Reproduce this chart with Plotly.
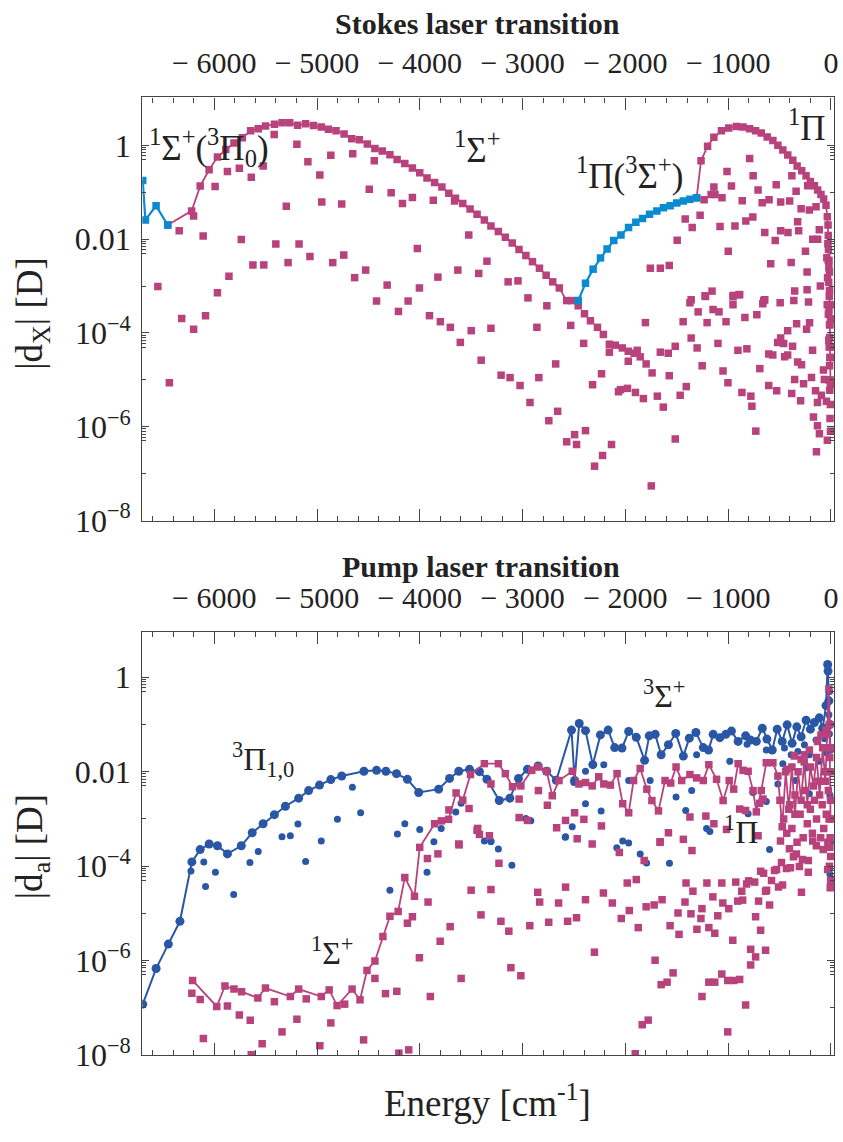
import plotly.graph_objects as go

W, H = 843, 1142
MAGENTA = "#B8427C"
LIGHT_BLUE = "#0A8AD0"
DARK_BLUE = "#2A56A6"
AXIS = "#444444"
FONT = "Liberation Serif"

# ---------------- Stokes laser transition: |d_X| [D] vs energy [cm^-1] ----------------
stokes_mixed_left = [(-6696, 0.178), (-6670, 0.0257), (-6566, 0.0513), (-6453, 0.020)]

stokes_sigma = [
    (-6453, 0.020), (-6220, 0.040), (-6137, 0.135), (-6050, 0.30), (-5969, 0.56),
    (-5888, 0.81), (-5808, 1.12), (-5727, 1.45), (-5646, 2.04), (-5572, 2.24),
    (-5501, 2.57), (-5414, 2.82), (-5340, 3.02), (-5266, 3.02), (-5189, 2.69),
    (-5111, 2.88), (-5034, 2.63), (-4959, 2.45), (-4889, 2.19), (-4815, 2.04),
    (-4737, 1.74), (-4663, 1.38), (-4589, 1.32), (-4511, 1.07), (-4437, 0.85),
    (-4366, 0.76), (-4291, 0.63), (-4221, 0.50), (-4146, 0.41), (-4072, 0.33),
    (-4001, 0.26), (-3930, 0.20), (-3856, 0.162), (-3785, 0.129), (-3718, 0.095),
    (-3653, 0.074), (-3582, 0.0575), (-3511, 0.0437), (-3443, 0.0339), (-3372, 0.0257),
    (-3308, 0.0191), (-3236, 0.0145), (-3168, 0.011), (-3101, 0.0083), (-3035, 0.0060),
    (-2968, 0.00447), (-2904, 0.00331), (-2836, 0.0024), (-2771, 0.0017), (-2707, 0.00123),
    (-2643, 0.00091), (-2571, 0.00049), (-2522, 0.00049), (-2459, 0.00049),
]

stokes_mixed_mid = [
    (-2459, 0.00049), (-2388, 0.00115), (-2314, 0.00229), (-2242, 0.00398), (-2178, 0.00617),
    (-2113, 0.0093), (-2043, 0.0123), (-1969, 0.0178), (-1898, 0.0229), (-1833, 0.0275),
    (-1765, 0.0339), (-1694, 0.0398), (-1630, 0.0468), (-1565, 0.0513), (-1500, 0.0589),
    (-1436, 0.0646), (-1372, 0.0708), (-1307, 0.0759),
]

stokes_pi = [
    (-1307, 0.0759), (-1264, 0.468), (-1200, 0.955), (-1139, 1.48), (-1065, 2.04),
    (-994, 2.34), (-920, 2.51), (-855, 2.45), (-791, 2.24), (-733, 2.04), (-678, 1.82),
    (-620, 1.51), (-565, 1.26), (-516, 1.0), (-468, 0.79), (-420, 0.62), (-371, 0.48),
    (-329, 0.363), (-284, 0.288), (-242, 0.224), (-200, 0.170), (-161, 0.138),
    (-129, 0.112), (-97, 0.089), (-71, 0.072), (-48, 0.0525), (-35, 0.030), (-26, 0.012),
    (-19, 0.0035), (-14, 8e-4), (-10, 1.5e-4), (-7, 3e-5), (-5, 8e-6),
]

stokes_other = [
    (-5196, 1.05), (-5089, 0.447), (-4973, 0.234), (-4866, 0.617), (-4653, 0.66),
    (-4443, 0.468), (-5417, 1.70), (-5524, 0.363), (-5640, 0.209), (-5756, 0.324),
    (-5872, 0.275), (-5992, 0.132), (-4492, 0.115), (-4279, 0.098), (-4169, 0.0575),
    (-4072, 0.0776), (-3869, 0.0676), (-3662, 0.0646), (-4760, 0.0562), (-4954, 0.0617),
    (-5299, 0.050), (-6341, 0.0151), (-6108, 0.0117), (-6201, 0.031), (-5737, 0.0098),
    (-5401, 0.0079), (-5175, 0.0079), (-5069, 0.00427), (-5282, 0.00316), (-5624, 0.00282),
    (-5518, 0.00282), (-4847, 0.00316), (-4740, 0.00457), (-4634, 0.00151), (-4527, 0.00219),
    (-4024, 0.0063), (-3524, 0.0123), (-3347, 0.00339), (-3427, 0.00186), (-3630, 0.00219),
    (-3824, 0.00155), (-4004, 0.00091), (-4318, 0.00105), (-4421, 0.00048), (-4114, 0.00048),
    (-5857, 0.00162), (-5969, 0.00072), (-6549, 0.00098),
    (-6437, 8.7e-6), (-6317, 2.04e-4), (-6201, 1.2e-4), (-6085, 2.34e-4), (-4208, 2.88e-4),
    (-3906, 2.34e-4), (-3800, 1.74e-4), (-3703, 1.32e-4), (-3606, 6.3e-5), (-3500, 1.12e-4),
    (-3403, 2.63e-5), (-3308, 1.26e-4), (-3209, 1.26e-5), (-3122, 1.12e-5), (-3025, 7.6e-6),
    (-2928, 3.3e-6), (-3141, 1.23e-3), (-3045, 1.29e-3), (-2948, 5.6e-4), (-2861, 1.32e-4),
    (-2842, 1.12e-5), (-2764, 3.8e-4), (-2745, 1.35e-6), (-2678, 2.19e-5), (-2659, 2.14e-6),
    (-2571, 4.8e-7), (-2494, 6.8e-7), (-2475, 4.2e-7), (-2388, 8.3e-7), (-2300, 1.45e-7),
    (-2222, 2.45e-7), (-2135, 4.2e-7), (-1748, 5.5e-8), (-2319, 7.9e-6), (-2232, 1.35e-5),
    (-2532, 1.45e-4), (-2406, 6.0e-5),
    (-2459, 3.8e-4), (-2398, 2.57e-4), (-2340, 1.82e-4), (-2272, 1.32e-4), (-2214, 9.3e-5),
    (-2156, 5.75e-5), (-2098, 5.5e-5), (-2156, 3.9e-5), (-2030, 4.8e-5), (-1972, 4.07e-5),
    (-1914, 3.7e-5), (-1885, 4.27e-5), (-1856, 3.1e-5), (-1972, 2.5e-5), (-1798, 2.19e-5),
    (-1740, 1.41e-5), (-2067, 5.6e-6), (-2048, 6.2e-6), (-1980, 6.6e-6), (-1902, 5.4e-6),
    (-1825, 4.0e-6), (-1689, 4.5e-6), (-1631, 2.63e-6), (-1573, 1.23e-5), (-1467, 4.7e-6),
    (-1408, 7.2e-6), (-1515, 5.5e-7), (-1805, 1.66e-4), (-1660, 3.9e-5), (-1583, 3.7e-5),
    (-1515, 5.2e-5), (-1438, 1.74e-4), (-1360, 5.1e-4), (-1360, 7.8e-5), (-1302, 4.8e-5),
    (-1292, 2.82e-4), (-1253, 2.0e-5), (-1225, 6.2e-4), (-1205, 1.66e-4), (-1157, 7.8e-4),
    (-1147, 3.16e-4), (-1089, 2.82e-4), (-1099, 6.0e-5), (-1050, 1.55e-5), (-1021, 1.74e-4),
    (-1002, 8.7e-6), (-953, 5.9e-4), (-953, 4.0e-4), (-895, 6.5e-4), (-905, 4.27e-5),
    (-866, 5.4e-6), (-837, 2.14e-4), (-818, 4.6e-5), (-779, 4.5e-6), (-769, 2.75e-6),
    (-731, 8.1e-7), (-721, 2.45e-4), (-692, 1.74e-5), (-663, 4.2e-4), (-644, 5.1e-4),
    (-605, 3.55e-5), (-566, 3.4e-5), (-605, 7.6e-6), (-528, 5.9e-6), (-518, 6.3e-5),
    (-489, 7.8e-5), (-460, 6.0e-5), (-450, 3.1e-5), (-421, 1.12e-4), (-421, 3.4e-5),
    (-382, 5.1e-6), (-373, 5.2e-5), (-353, 7.8e-4), (-353, 1.02e-5), (-334, 1.58e-4),
    (-324, 2.4e-5), (-295, 3.6e-6), (-286, 2.1e-5), (-266, 8.3e-6), (-237, 1.2e-4),
    (-218, 4.6e-4), (-208, 1.66e-4), (-189, 1.12e-5), (-179, 4.27e-5), (-170, 1.62e-6),
    (-150, 5.9e-6), (-131, 3.3e-6), (-131, 1.05e-6), (-112, 7.1e-7), (-141, 2.95e-7),
    (-35, 5.2e-7), (-93, 4.7e-6), (-73, 1.62e-5), (-64, 1.02e-5), (-44, 3.5e-6),
    (-791, 0.525), (-1011, 0.275), (-757, 0.224), (-1139, 0.129), (-968, 0.135),
    (-709, 0.112), (-532, 0.145), (-380, 0.224), (-339, 0.105), (-226, 0.138),
    (-602, 0.069), (-489, 0.0617), (-402, 0.0646), (-863, 0.066), (-669, 0.060),
    (-1234, 0.069), (-1166, 0.089), (-1128, 0.089), (-1060, 0.076), (-1273, 0.0324),
    (-1418, 0.0269), (-1350, 0.0178), (-1496, 0.0095), (-1079, 0.0186), (-934, 0.0191),
    (-828, 0.0245), (-760, 0.0295), (-644, 0.0138), (-542, 0.0093), (-489, 0.0151),
    (-418, 0.0138), (-324, 0.0234), (-314, 0.0151), (-290, 0.0447), (-210, 0.0417),
    (-248, 0.0055), (-177, 0.010), (-129, 0.010), (-145, 0.049), (-113, 0.0158),
    (-999, 0.0055), (-586, 0.0030), (-387, 0.00316), (-232, 0.0020), (-1660, 0.0024),
    (-1573, 0.00275), (-1757, 0.0024), (-1372, 4.4e-4), (-1220, 6.0e-4), (-951, 6.3e-4),
    (-888, 6.6e-4), (-654, 4.9e-4), (-494, 4.4e-4), (-361, 4.9e-4), (-232, 8.3e-4),
    (-103, 1.0e-3),
    (-28, 0.02), (-24, 0.006), (-20, 0.0025), (-22, 1.2e-3), (-16, 6e-4), (-19, 3e-4),
    (-14, 1.5e-4), (-12, 8e-5), (-17, 5e-5), (-10, 3e-5), (-13, 2e-5), (-8, 1e-5),
    (-11, 6e-6), (-6, 3e-6), (-9, 1.5e-6), (-5, 8e-7), (-30, 0.008), (-26, 3.5e-3),
    (-33, 1.5e-3), (-15, 2e-3), (-7, 4e-4), (-21, 7e-5), (-4, 2e-4), (-3, 5e-5),
    (-36, 4e-4), (-40, 0.004), (-18, 1e-5), (-25, 2.5e-4),
]

# ---------------- Pump laser transition: |d_a| [D] vs energy [cm^-1] ----------------
pump_triplet = [
    (-6696, 1.2e-7), (-6566, 6.8e-7), (-6447, 2.24e-6), (-6334, 6.8e-6), (-6218, 1.23e-4),
    (-6137, 2.24e-4), (-6050, 2.95e-4), (-5969, 2.7e-4), (-5872, 1.82e-4), (-5737, 2.7e-4),
    (-5631, 5.1e-4), (-5525, 7.9e-4), (-5415, 1.23e-3), (-5308, 1.86e-3), (-5179, 2.75e-3),
    (-5082, 3.98e-3), (-4976, 5.2e-3), (-4866, 6.8e-3), (-4760, 8.1e-3), (-4544, 0.0102),
    (-4421, 0.0107), (-4330, 0.0102), (-4227, 9.1e-3), (-4121, 6.9e-3), (-4011, 3.63e-3),
    (-3817, 4.27e-3), (-3711, 7.2e-3), (-3621, 0.0102), (-3517, 0.0112), (-3420, 0.010),
    (-3347, 6.9e-3), (-3227, 2.45e-3), (-3124, 2.75e-3), (-3040, 7.2e-3), (-2953, 0.0112),
    (-2849, 0.0132), (-2766, 0.0102), (-2672, 6.6e-3), (-2524, 0.0759), (-2494, 6.5e-3),
    (-2449, 0.105), (-2388, 0.074), (-2317, 0.0141), (-2243, 0.060), (-2168, 0.0759),
    (-2104, 0.0324), (-2033, 0.0316), (-1968, 0.0708), (-1894, 0.0537), (-1813, 0.0174),
    (-1768, 0.0575), (-1710, 0.0617), (-1652, 0.0229), (-1581, 0.0372), (-1510, 0.0646),
    (-1436, 0.0214), (-1378, 0.0513), (-1314, 0.0676), (-1242, 0.0324), (-1191, 0.0288),
    (-1146, 0.0617), (-1081, 0.0525), (-1023, 0.0617), (-968, 0.0724), (-903, 0.0437),
    (-830, 0.0575), (-784, 0.0468), (-726, 0.0437), (-668, 0.083), (-623, 0.049),
    (-571, 0.0288), (-523, 0.0794), (-474, 0.0437), (-426, 0.098), (-378, 0.0398),
    (-332, 0.089), (-290, 0.055), (-242, 0.123), (-200, 0.0794), (-161, 0.110),
    (-113, 0.138), (-80, 0.083), (-48, 0.251), (-32, 1.86), (-28, 1.35), (-20, 0.316),
    (-12, 0.1), (-6, 0.03),
]

pump_triplet_other = [
    (-6227, 7.9e-5), (-6102, 1.23e-4), (-6085, 3.7e-5), (-5989, 7.4e-5), (-5811, 2.5e-5),
    (-5653, 1.2e-4), (-5572, 2.04e-4), (-5111, 1.26e-4), (-4291, 3.1e-5), (-3930, 7.4e-5),
    (-4656, 4.7e-3), (-4576, 1.35e-3), (-4802, 9.8e-4), (-5186, 7.8e-4), (-5341, 4.2e-4),
    (-5260, 4.4e-4), (-4959, 3.4e-4), (-4218, 4.8e-4), (-4146, 7.9e-4), (-4001, 6.0e-4),
    (-3792, 6.3e-4), (-3863, 3.3e-4), (-3650, 1.41e-3), (-3598, 2.14e-3),
    (-3372, 3.4e-4), (-3308, 3.4e-4), (-3236, 2.3e-4), (-3104, 1.05e-4), (-2585, 4.1e-4),
    (-2084, 2.45e-4), (-2026, 3.4e-4), (-1968, 3.1e-4), (-1856, 1.82e-4), (-1794, 1.17e-4),
    (-1571, 1.15e-4), (-597, 2.24e-4),
    (-2210, 0.0141), (-2501, 5.9e-3), (-2388, 0.0102), (-1307, 0.0229), (-984, 0.0166),
    (-816, 0.038), (-629, 0.0288), (-452, 0.0316), (-387, 0.0229), (-322, 0.0269),
    (-258, 0.0372), (-210, 0.0229), (-145, 0.0468),
    (-2388, 2.1e-3), (-2236, 1.48e-3), (-1968, 6.5e-3), (-1759, 6.5e-3), (-1507, 2.9e-3),
    (-1413, 1.51e-3), (-1355, 3.98e-3), (-1210, 6.3e-4), (-1178, 5.4e-4), (-806, 1.29e-3),
    (-758, 3.63e-3), (-629, 2.34e-3), (-516, 5.5e-3), (-468, 0.0148), (-345, 6.5e-3),
    (-242, 0.012), (-210, 3.4e-3), (-113, 0.0166), (-2582, 4.2e-4), (-2517, 6.8e-4),
    (-2969, 1.02e-3), (-2920, 9.1e-4), (-3308, 3.3e-4),
    (-60, 0.05), (-40, 0.025), (-25, 0.01), (-15, 0.063), (-10, 3.2e-3), (-8, 1e-3),
    (-5, 3.2e-4), (-10, 6.8e-5), (-20, 0.16), (-12, 0.5), (-30, 1.66),
]

pump_singlet = [
    (-6211, 3.8e-7), (-5976, 1.07e-7), (-5896, 2.9e-7), (-5808, 2.5e-7), (-5734, 2.2e-7),
    (-5576, 1.62e-7), (-5502, 2.63e-7), (-5260, 1.74e-7), (-5179, 2.5e-7), (-4959, 1.74e-7),
    (-4882, 2.4e-7), (-4805, 1.12e-7), (-4659, 2.5e-7), (-4582, 1.48e-7), (-4514, 6.2e-7),
    (-4437, 9.8e-7), (-4359, 3.24e-6), (-4291, 8.7e-6), (-4211, 1.1e-5), (-4146, 5.75e-5),
    (-4052, 2.3e-5), (-4001, 2.5e-4), (-3856, 7.9e-4), (-3790, 9.1e-4), (-3720, 9.8e-4),
    (-3647, 3.55e-3), (-3582, 2.5e-3), (-3507, 8.7e-3), (-3372, 0.0148), (-3236, 0.0148),
    (-3168, 9.1e-3), (-3098, 4.8e-3), (-3017, 5.0e-3), (-2911, 0.0107), (-2846, 0.0126),
    (-2766, 0.0102), (-2711, 3.1e-3), (-2646, 6.5e-3), (-2517, 0.0102), (-2452, 5.5e-3),
    (-2388, 5.9e-3), (-2323, 5.0e-3), (-2259, 7.8e-3), (-2210, 5.5e-3), (-2146, 5.2e-3),
    (-2081, 9.1e-3), (-2026, 2.1e-3), (-1968, 1.35e-3), (-1920, 6.5e-3), (-1856, 0.0117),
    (-1791, 4.27e-3), (-1742, 2.45e-3), (-1678, 1.48e-3), (-1614, 6.5e-3), (-1559, 5.75e-3),
    (-1507, 0.0126), (-1452, 6.5e-3), (-1372, 8.7e-3), (-1307, 7.4e-3), (-1242, 6.5e-3),
    (-1188, 0.0141), (-1113, 6.9e-3), (-1049, 2.45e-3), (-990, 6.5e-3), (-946, 4.27e-3),
    (-903, 0.0148), (-855, 0.0107), (-806, 0.0102), (-758, 3.98e-3), (-726, 1.41e-3),
    (-678, 3.98e-3), (-629, 0.0155), (-565, 0.0155), (-516, 8.1e-3), (-474, 6.8e-4),
    (-440, 0.01), (-410, 1.6e-3), (-380, 0.0126), (-350, 1.26e-3), (-320, 0.01),
    (-290, 2.5e-3), (-260, 0.016), (-230, 2.0e-3), (-200, 0.0126), (-170, 5e-3),
    (-140, 0.02), (-110, 3.2e-3), (-80, 0.032), (-55, 6.3e-3), (-35, 0.063), (-20, 0.56),
    (-14, 0.1), (-8, 0.01), (-4, 1e-3),
]

pump_singlet_other = [
    (-3717, 1.55e-3), (-3521, 1.66e-3), (-3443, 5.75e-4), (-3420, 4.7e-4), (-3621, 2.95e-4),
    (-6218, 2.04e-7), (-6137, 1.51e-7), (-6106, 2.24e-8), (-5872, 1.1e-7), (-5756, 7.1e-8),
    (-5650, 5.5e-8), (-5640, 1.02e-8), (-5534, 1.74e-8), (-5415, 1.35e-7), (-5341, 3.1e-8),
    (-5196, 5.75e-8), (-5105, 1.55e-7), (-4973, 1.58e-8), (-4866, 4.8e-8), (-4731, 1.2e-7),
    (-4547, 2.1e-8), (-4437, 4.2e-7), (-4334, 2.0e-7), (-4224, 2.24e-7), (-4204, 1.1e-8),
    (-4108, 1.29e-8), (-4121, 6.2e-6), (-4072, 8.5e-6), (-4004, 1.15e-6), (-3926, 1.45e-4),
    (-3920, 1.74e-5), (-3898, 1.74e-7), (-3824, 1.82e-4), (-3802, 2.57e-6), (-3705, 5.25e-6),
    (-3618, 2.82e-4), (-3598, 4.2e-7), (-3501, 3.1e-5), (-3405, 9.3e-6),
    (-3308, 3.2e-5), (-3230, 1.15e-4), (-3211, 6.8e-6), (-3134, 4.2e-6), (-3114, 7.1e-7),
    (-3017, 4.8e-7), (-2930, 5.5e-6), (-2853, 2.8e-5), (-2834, 1.74e-5), (-2746, 6.5e-6),
    (-2650, 1.66e-5), (-2582, 3.6e-5), (-2562, 6.8e-6), (-2475, 8.1e-6), (-2388, 1.95e-5),
    (-2301, 1.51e-6), (-2214, 2.7e-5), (-2127, 1.66e-5), (-2059, 1.95e-4), (-2040, 7.8e-6),
    (-1982, 4.4e-5), (-1962, 1.15e-5), (-1904, 1.07e-8), (-1894, 5.2e-5), (-1875, 5.0e-6),
    (-1836, 4.4e-8), (-1817, 1.32e-4), (-1798, 1.38e-5), (-1778, 5.5e-8), (-1720, 1.51e-5),
    (-1711, 1.02e-6), (-1662, 3.2e-4), (-1652, 3.1e-7), (-1643, 1.95e-5), (-1594, 3.5e-7),
    (-1565, 5.5e-6), (-1536, 5.5e-7), (-1488, 1.02e-5), (-1478, 3.6e-6), (-1420, 1.74e-5),
    (-1410, 4.4e-5), (-1362, 9.8e-6), (-1352, 2.14e-4), (-1343, 2.95e-5), (-1304, 4.6e-6),
    (-1265, 7.8e-6), (-1255, 1.26e-5), (-1255, 1.74e-7), (-1207, 4.4e-5), (-1188, 5.0e-6),
    (-1188, 3.5e-7), (-1149, 2.24e-5), (-1130, 3.8e-6), (-1130, 3.5e-7), (-1101, 8.9e-6),
    (-1062, 4.4e-5), (-1062, 5.2e-7), (-1052, 1.66e-5), (-1004, 3.8e-7), (-1004, 3.1e-8),
    (-994, 1.26e-5), (-955, 2.7e-6), (-946, 3.8e-7), (-926, 4.6e-5), (-907, 1.82e-5),
    (-888, 4.0e-7), (-868, 2.95e-5), (-859, 1.91e-5), (-830, 1.15e-7), (-820, 4.2e-5),
    (-801, 4.9e-5), (-781, 1.74e-6), (-781, 8.1e-7), (-742, 4.6e-5), (-733, 8.5e-6),
    (-733, 1.2e-6), (-704, 1.82e-5), (-684, 4.4e-6), (-684, 7.8e-5), (-655, 7.1e-5),
    (-636, 2.95e-5), (-636, 1.66e-6), (-626, 3.1e-5), (-597, 1.51e-5), (-578, 5.0e-5),
    (-549, 8.1e-5), (-529, 8.5e-5), (-510, 3.6e-5), (-481, 1.2e-4), (-471, 4.0e-5),
    (-433, 8.9e-5), (-394, 9.3e-5), (-365, 1.58e-4), (-336, 1.82e-4), (-307, 9.8e-5),
    (-287, 2.8e-5), (-278, 1.38e-4), (-220, 1.32e-4), (-220, 7.4e-5), (-491, 3.4e-4),
    (-404, 2.34e-4), (-177, 3.4e-4), (-142, 2.7e-4), (-75, 2.24e-4), (-32, 8.5e-5),
    (-7, 3.5e-5), (-3, 5e-5),
    (-3308, 5.5e-3), (-3034, 2.63e-3), (-2846, 3.98e-3), (-2759, 1.95e-3), (-3034, 1.07e-3),
    (-2953, 9.3e-4), (-2669, 6.5e-4), (-2582, 9.3e-4), (-2494, 1.35e-3), (-2404, 9.8e-4),
    (-2233, 7.1e-4), (-2323, 2.95e-4), (-3323, 4.4e-4), (-3437, 6.3e-4), (-2469, 3.8e-4),
    (-1581, 5.1e-4), (-1662, 3.3e-4), (-1436, 3.7e-4), (-1372, 1.1e-3), (-1217, 1.15e-3),
    (-1139, 7.9e-4), (-1016, 6.0e-4), (-888, 1.62e-3), (-830, 1.51e-3), (-709, 4.4e-4),
    (-694, 2.14e-3), (-661, 2.63e-3),
    (-496, 2.5e-3), (-429, 0.0112), (-355, 0.0214), (-290, 0.0182), (-258, 0.0229),
    (-210, 0.0288), (-129, 0.0437), (-97, 0.060), (-48, 0.076),
    (-460, 1e-3), (-430, 5e-4), (-400, 2e-3), (-380, 6.3e-4), (-350, 3.2e-3), (-330, 3.2e-4),
    (-300, 1.26e-3), (-270, 4e-4), (-250, 4e-3), (-230, 7.9e-4), (-200, 1.6e-3), (-180, 5e-4),
    (-160, 2.5e-3), (-140, 1e-3), (-120, 6.3e-3), (-100, 4e-4), (-85, 2e-3), (-70, 6.3e-4),
    (-60, 0.01), (-45, 1.26e-3), (-30, 3.2e-4), (-25, 4e-3), (-18, 1e-3), (-12, 0.02),
    (-8, 4e-4), (-5, 2.5e-3), (-3, 0.032), (-3, 1.6e-4), (-15, 1e-4), (-10, 2.5e-4),
]

x_ticks = [-6000, -5000, -4000, -3000, -2000, -1000, 0]
x_ticktext = ["\u2212 6000", "\u2212 5000", "\u2212 4000", "\u2212 3000",
              "\u2212 2000", "\u2212 1000", "0"]
y_ticks = [1, 0.01, 1e-4, 1e-6, 1e-8]
y_ticktext = ["1", "0.01", "10<sup>\u22124</sup>", "10<sup>\u22126</sup>", "10<sup>\u22128</sup>"]
# minor ticks just below each labelled decade
y_minor = [k * 10.0 ** (m - 1) for m in (0, -2, -4, -6) for k in (5, 6, 7, 8, 9)] + \
          [10.0 ** (m - 1) for m in (0, -2, -4, -6)]


def cols(pairs):
    return [p[0] for p in pairs], [p[1] for p in pairs]


fig = go.Figure()


def add(pairs, color, symbol, size, axis, line=True, lw=1.8):
    xs, ys = cols(pairs)
    fig.add_trace(go.Scatter(
        x=xs, y=ys, xaxis="x" + axis, yaxis="y" + axis,
        mode="lines+markers" if line else "markers",
        line=dict(color=color, width=lw),
        marker=dict(color=color, symbol=symbol, size=size, line=dict(width=0)),
        hoverinfo="skip", showlegend=False,
    ))


# top panel
add(stokes_other, MAGENTA, "square", 7.5, "", line=False)
add(stokes_sigma, MAGENTA, "square", 7.5, "")
add(stokes_pi, MAGENTA, "square", 7.5, "")
add(stokes_mixed_left, LIGHT_BLUE, "square", 7.5, "", lw=2.2)
add(stokes_mixed_mid, LIGHT_BLUE, "square", 7.5, "", lw=2.2)

# bottom panel
add(pump_triplet_other, DARK_BLUE, "circle", 7, "2", line=False)
add(pump_triplet, DARK_BLUE, "circle", 9, "2", lw=2)
add(pump_singlet_other, MAGENTA, "square", 7.5, "2", line=False)
add(pump_singlet, MAGENTA, "square", 7.5, "2")

top_dom = [(H - 529) / H, (H - 99) / H]
bot_dom = [(H - 1072) / H, (H - 642) / H]
x_dom = [143 / W, 838 / W]

xtickfont = dict(family=FONT, size=30, color="#222222")
ytickfont = dict(family=FONT, size=32, color="#222222")


def xaxis(anchor):
    return dict(
        domain=x_dom, anchor=anchor, side="top", range=[-6700, 30],
        tickmode="array", tickvals=x_ticks, ticktext=x_ticktext,
        ticks="inside", ticklen=12, tickwidth=1.2, tickcolor=AXIS,
        minor=dict(ticks="inside", ticklen=5, tickwidth=1, tickcolor=AXIS,
                   dtick=200, tick0=0, showgrid=False),
        showline=True, linecolor=AXIS, linewidth=1.3, mirror="allticks",
        showgrid=False, zeroline=False, tickfont=xtickfont, ticklabelstandoff=11,
    )


def yaxis(anchor, dom, top):
    return dict(
        domain=dom, anchor=anchor, type="log", range=[-8, top],
        tickmode="array", tickvals=y_ticks, ticktext=y_ticktext,
        ticks="inside", ticklen=7, tickwidth=1.2, tickcolor=AXIS,
        minor=dict(ticks="inside", ticklen=3.5, tickwidth=1, tickcolor=AXIS,
                   tickmode="array", tickvals=y_minor, showgrid=False),
        showline=True, linecolor=AXIS, linewidth=1.3, mirror="allticks",
        showgrid=False, zeroline=False, tickfont=ytickfont, ticklabelstandoff=4,
    )


def at(x, y):
    return dict(x=x / W, y=1 - y / H, xref="paper", yref="paper",
                xanchor="center", yanchor="middle", showarrow=False)


ylabel_font = dict(family=FONT, size=37, color="#222222")
xlabel_font = dict(family=FONT, size=37, color="#222222")
state_font_top = dict(family=FONT, size=35, color="#222222")
state_font_bot = dict(family=FONT, size=32, color="#222222")
title_font = dict(family=FONT, size=30, color="#222222")

annotations = [
    dict(text="<b>Stokes laser transition</b>", font=title_font, **at(480, 24)),
    dict(text="<b>Pump laser transition</b>", font=title_font, **at(483, 576)),
    dict(text="Energy [cm<sup>-1</sup>]", font=xlabel_font, **at(490, 1118)),
    dict(text="|d<sub>X</sub>| [D]", font=ylabel_font, textangle=-90, **at(33, 318)),
    dict(text="|d<sub>a</sub>| [D]", font=ylabel_font, textangle=-90, **at(33, 860)),
    dict(text="<sup>1</sup>\u03a3<sup>+</sup>(<sup>3</sup>\u03a0<sub>0</sub>)",
         font=state_font_top, **at(210, 150)),
    dict(text="<sup>1</sup>\u03a3<sup>+</sup>", font=state_font_top, **at(479, 150)),
    dict(text="<sup>1</sup>\u03a0(<sup>3</sup>\u03a3<sup>+</sup>)",
         font=state_font_top, **at(633, 176)),
    dict(text="<sup>1</sup>\u03a0", font=state_font_top, **at(811, 128)),
    dict(text="<sup>3</sup>\u03a0<sub>1,0</sub>", font=state_font_bot, **at(264, 772)),
    dict(text="<sup>3</sup>\u03a3<sup>+</sup>", font=state_font_bot, **at(667, 705)),
    dict(text="<sup>1</sup>\u03a0", font=state_font_bot, **at(745, 843)),
    dict(text="<sup>1</sup>\u03a3<sup>+</sup>", font=state_font_bot, **at(334, 966)),
]

fig.update_layout(
    width=W, height=H, margin=dict(l=0, r=0, t=0, b=0),
    paper_bgcolor="white", plot_bgcolor="white",
    font=dict(family=FONT, color="#222222"),
    xaxis=xaxis("y"), yaxis=yaxis("x", top_dom, 1.02),
    xaxis2=xaxis("y2"), yaxis2=yaxis("x2", bot_dom, 0.96),
    annotations=annotations, showlegend=False,
)

fig.write_html("out.html")
